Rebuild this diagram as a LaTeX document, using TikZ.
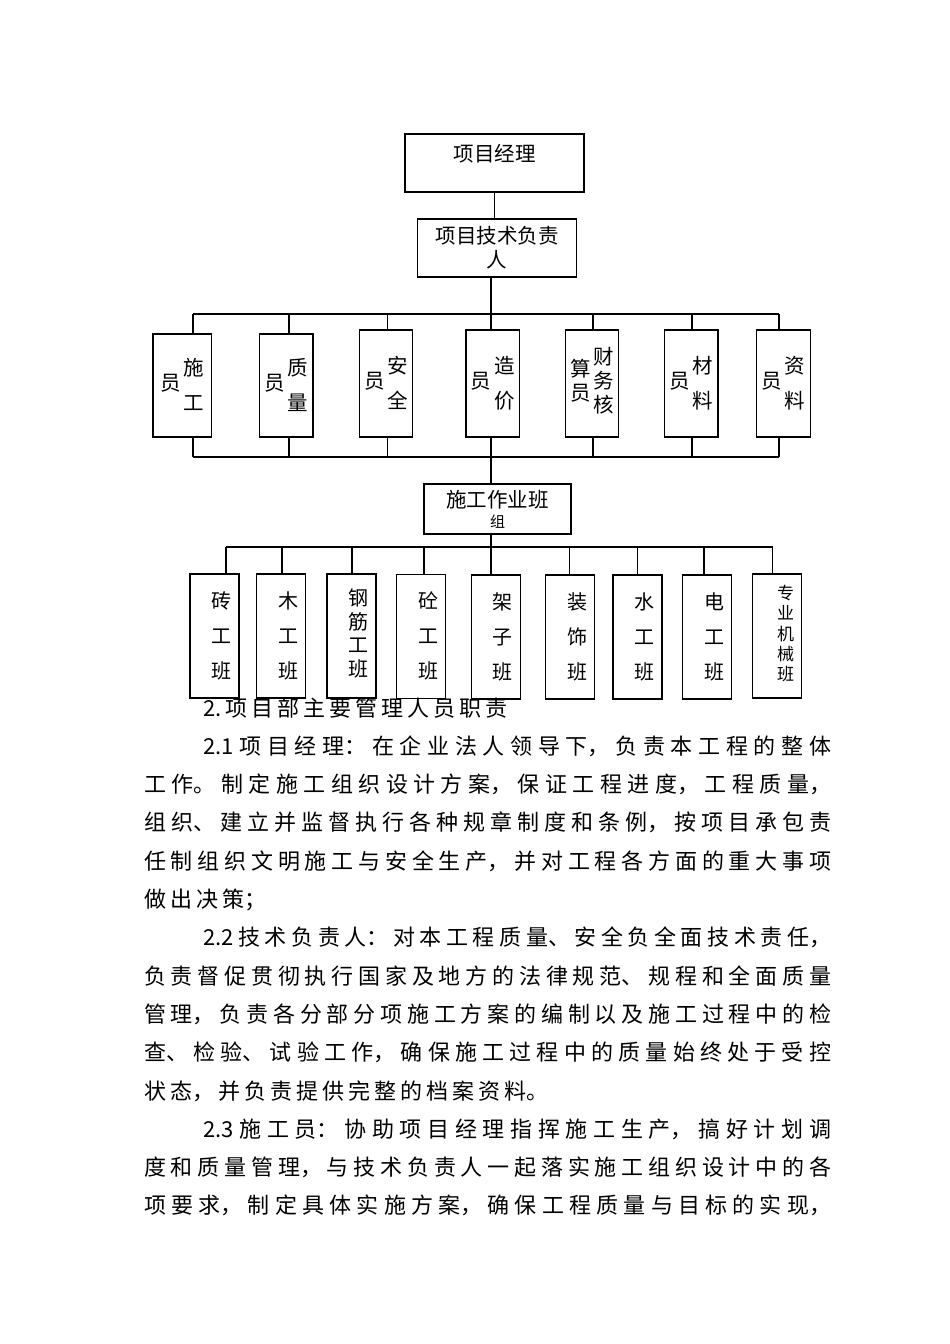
\documentclass[tikz,border=0pt]{standalone}
\usepackage{fontspec}
\newfontfamily\cjk{Noto Sans CJK SC}

\begin{document}
\begin{tikzpicture}[x=1pt,y=-1pt,
  box/.style={draw,line width=1.2pt,inner sep=0pt,font=\cjk},
  mbox/.style={box,minimum width=53.5pt,minimum height=107pt,font=\cjk\fontsize{20.5}{35}\selectfont},
  tbox/.style={box,minimum width=49pt,minimum height=124pt,font=\cjk\fontsize{20}{35}\selectfont},
  link/.style={line width=1.2pt},
  duty/.style={anchor=base west,text width=687pt,align=justify,inner sep=0pt,font=\cjk\fontsize{22}{38.3}\selectfont}]

\useasboundingbox (0,0) rectangle (950,1344);

\node[box,minimum width=179pt,minimum height=58pt,font=\cjk\fontsize{20.5}{24}\selectfont,text height=18pt,text depth=22pt] (pm) at (494.5,163) {项目经理};
\node[box,minimum width=159.6pt,minimum height=58pt,align=center,font=\cjk\fontsize{20.5}{24}\selectfont] (tech) at (497,248) {项目技术负责\\人};
\draw[link] (pm.south) -- (pm.south |- tech.north);

% staff
\node[mbox,minimum width=58.7pt,minimum height=103pt] (shigong) at (182.4,385.5) {\begin{tabular}{@{}c@{\hspace{3pt}}c@{}}员&\begin{tabular}[c]{@{}c@{}}施\\工\end{tabular}\end{tabular}};
\node[mbox,minimum height=103pt] (zhiliang) at (286.3,385.5) {\begin{tabular}{@{}c@{\hspace{3pt}}c@{}}员&\begin{tabular}[c]{@{}c@{}}质\\量\end{tabular}\end{tabular}};
\node[mbox] (anquan) at (386,383.5) {\begin{tabular}{@{}c@{\hspace{3pt}}c@{}}员&\begin{tabular}[c]{@{}c@{}}安\\全\end{tabular}\end{tabular}};
\node[mbox] (zaojia) at (492.8,383.5) {\begin{tabular}{@{}c@{\hspace{3pt}}c@{}}员&\begin{tabular}[c]{@{}c@{}}造\\价\end{tabular}\end{tabular}};
\node[mbox] (caiwu) at (592,383.5) {\fontsize{20.5}{23.5}\selectfont\begin{tabular}{@{}c@{\hspace{3pt}}c@{}}\begin{tabular}[c]{@{}c@{}}算\\员\end{tabular}&\begin{tabular}[c]{@{}c@{}}财\\务\\核\end{tabular}\end{tabular}};
\node[mbox] (cailiao) at (691.3,383.5) {\begin{tabular}{@{}c@{\hspace{3pt}}c@{}}员&\begin{tabular}[c]{@{}c@{}}材\\料\end{tabular}\end{tabular}};
\node[mbox] (ziliao) at (783.4,383.5) {\begin{tabular}{@{}c@{\hspace{3pt}}c@{}}员&\begin{tabular}[c]{@{}c@{}}资\\料\end{tabular}\end{tabular}};

\coordinate (c1) at (193,314);
\coordinate (c2) at (289,314);
\coordinate (c3) at (387.3,314);
\coordinate (c4) at (491,314);
\coordinate (c5) at (593,314);
\coordinate (c6) at (692,314);
\coordinate (c7) at (779,314);
\draw[link] (c4 |- tech.south) -- (c4);
\draw[link] (c1) -- (c7);
\draw[link] (c1) -- (c1 |- shigong.north);
\draw[link] (c2) -- (c2 |- zhiliang.north);
\draw[link] (c3) -- (c3 |- anquan.north);
\draw[link] (c4) -- (c4 |- zaojia.north);
\draw[link] (c5) -- (c5 |- caiwu.north);
\draw[link] (c6) -- (c6 |- cailiao.north);
\draw[link] (c7) -- (c7 |- ziliao.north);

\coordinate (d1) at (193,457);
\coordinate (d2) at (289,457);
\coordinate (d3) at (387.3,457);
\coordinate (d4) at (491,457);
\coordinate (d5) at (593,457);
\coordinate (d6) at (692,457);
\coordinate (d7) at (779,457);
\draw[link] (d1) -- (d7);
\draw[link] (d1 |- shigong.south) -- (d1);
\draw[link] (d2 |- zhiliang.south) -- (d2);
\draw[link] (d3 |- anquan.south) -- (d3);
\draw[link] (d4 |- zaojia.south) -- (d4);
\draw[link] (d5 |- caiwu.south) -- (d5);
\draw[link] (d6 |- cailiao.south) -- (d6);
\draw[link] (d7 |- ziliao.south) -- (d7);

% work teams
\node[box,minimum width=147pt,minimum height=50pt,align=center,font=\cjk\fontsize{20.5}{20}\selectfont] (team) at (497.5,509) {施工作业班\\{\fontsize{15}{15}\selectfont 组}};
\draw[link] (d4) -- (d4 |- team.north);

\node[tbox] (zhuan) at (214.5,636) {\begin{tabular}{@{\hspace{14pt}}c@{}}砖\\工\\班\end{tabular}};
\node[tbox] (mu) at (281,636) {\begin{tabular}{@{\hspace{14pt}}c@{}}木\\工\\班\end{tabular}};
\node[tbox] (gangjin) at (351.5,636) {\fontsize{20}{23.5}\selectfont\begin{tabular}{@{\hspace{14pt}}c@{}}钢\\筋\\工\\班\end{tabular}};
\node[tbox] (tong) at (421,636.5) {\begin{tabular}{@{\hspace{14pt}}c@{}}砼\\工\\班\end{tabular}};
\node[tbox] (jiazi) at (495.7,637) {\begin{tabular}{@{\hspace{14pt}}c@{}}架\\子\\班\end{tabular}};
\node[tbox] (zhuangshi) at (570.2,637) {\begin{tabular}{@{\hspace{14pt}}c@{}}装\\饰\\班\end{tabular}};
\node[tbox] (shui) at (637.4,637) {\begin{tabular}{@{\hspace{14pt}}c@{}}水\\工\\班\end{tabular}};
\node[tbox] (dian) at (707,637) {\begin{tabular}{@{\hspace{14pt}}c@{}}电\\工\\班\end{tabular}};
\node[tbox] (jixie) at (777,636) {\fontsize{17}{20}\selectfont\begin{tabular}{@{\hspace{17pt}}c@{}}专\\业\\机\\械\\班\end{tabular}};

\coordinate (e1) at (226,547);
\coordinate (e2) at (282,547);
\coordinate (e3) at (352,547);
\coordinate (e4) at (424,547);
\coordinate (e5) at (491,547);
\coordinate (e6) at (569.6,547);
\coordinate (e7) at (637.8,547);
\coordinate (e8) at (704,547);
\coordinate (e9) at (772.6,547);
\draw[link] (e5 |- team.south) -- (e5);
\draw[link] (e1) -- (e9);
\draw[link] (e1) -- (e1 |- zhuan.north);
\draw[link] (e2) -- (e2 |- mu.north);
\draw[link] (e3) -- (e3 |- gangjin.north);
\draw[link] (e4) -- (e4 |- tong.north);
\draw[link] (e5) -- (e5 |- jiazi.north);
\draw[link] (e6) -- (e6 |- zhuangshi.north);
\draw[link] (e7) -- (e7 |- shui.north);
\draw[link] (e8) -- (e8 |- dian.north);
\draw[link] (e9) -- (e9 |- jixie.north);

% text below the chart
\node[duty] (duty) at (144,716) {\XeTeXlinebreaklocale "zh"\XeTeXlinebreakskip=4pt plus 3pt minus 1pt
\hspace*{59pt}2.项目部主要管理人员职责\par
\hspace*{59pt}2.1项目经理：在企业法人领导下，负责本工程的整体\linebreak
工作。制定施工组织设计方案，保证工程进度，工程质量，\linebreak
组织、建立并监督执行各种规章制度和条例，按项目承包责\linebreak
任制组织文明施工与安全生产，并对工程各方面的重大事项\linebreak
做出决策；\par
\hspace*{59pt}2.2技术负责人：对本工程质量、安全负全面技术责任，\linebreak
负责督促贯彻执行国家及地方的法律规范、规程和全面质量\linebreak
管理，负责各分部分项施工方案的编制以及施工过程中的检\linebreak
查、检验、试验工作，确保施工过程中的质量始终处于受控\linebreak
状态，并负责提供完整的档案资料。\par
\hspace*{59pt}2.3施工员：协助项目经理指挥施工生产，搞好计划调\linebreak
度和质量管理，与技术负责人一起落实施工组织设计中的各\linebreak
项要求，制定具体实施方案，确保工程质量与目标的实现，\linebreak
\par};

\end{tikzpicture}
\end{document}
